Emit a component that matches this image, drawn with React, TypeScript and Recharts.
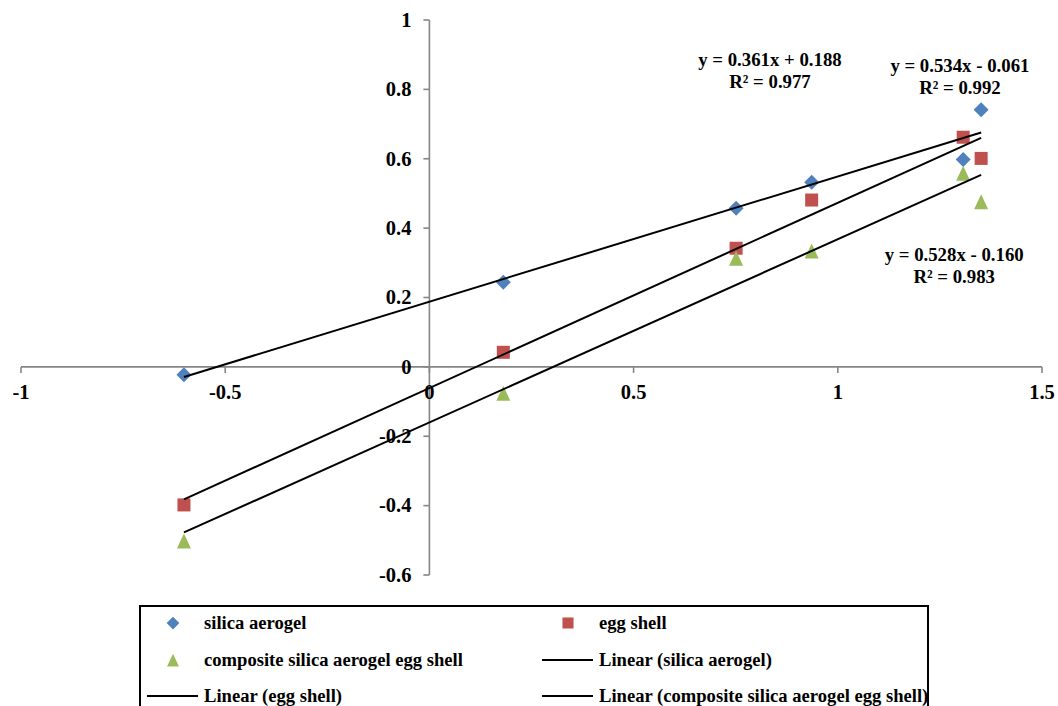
import React from 'react';
import { ScatterChart, Scatter, XAxis, YAxis, ReferenceLine, ReferenceDot } from 'recharts';

// ---- data ----
const xValues = [-0.601, 0.181, 0.751, 0.936, 1.307, 1.351];
const silicaAerogel = [-0.023, 0.244, 0.457, 0.532, 0.598, 0.741];
const eggShell = [-0.398, 0.042, 0.342, 0.481, 0.662, 0.601];
const compositeShell = [-0.502, -0.076, 0.313, 0.334, 0.558, 0.476];

const seriesNames = ['silica aerogel', 'egg shell', 'composite silica aerogel egg shell'];
const fitSlopes = [0.361, 0.534, 0.528];
const fitIntercepts = [0.188, -0.061, -0.16];
const fitR2 = [0.977, 0.992, 0.983];
// where each equation label sits (data units)
const labelX = [0.834, 1.299, 1.285];
const labelY = [0.853, 0.836, 0.291];

const xTicks = [-1, -0.5, 0, 0.5, 1, 1.5];
const xTickLabels = ['-1', '-0.5', '0', '0.5', '1', '1.5'];
const yTicks = [-0.6, -0.4, -0.2, 0, 0.2, 0.4, 0.6, 0.8, 1];
const yTickLabels = ['-0.6', '-0.4', '-0.2', '0', '0.2', '0.4', '0.6', '0.8', '1'];

const COLORS = ['#4F81BD', '#C0504D', '#9BBB59'];
const AXIS = '#868686';
const FONT = "'Liberation Serif', 'Times New Roman', Times, serif";

const seriesValues = [silicaAerogel, eggShell, compositeShell];
const seriesData = seriesValues.map((vals) => xValues.map((x, i) => ({ x, y: vals[i] })));
const xMin = Math.min(...xValues);
const xMax = Math.max(...xValues);
const fitData = fitSlopes.map((m, i) => [
  { x: xMin, y: m * xMin + fitIntercepts[i] },
  { x: xMax, y: m * xMax + fitIntercepts[i] },
]);

const fmtEq = (i: number) => {
  const b = fitIntercepts[i];
  const sign = b < 0 ? '-' : '+';
  return `y = ${fitSlopes[i].toFixed(3)}x ${sign} ${Math.abs(b).toFixed(3)}`;
};

// ---- marker shapes ----
const Marker = ({ kind, cx, cy, s = 1 }: { kind: number; cx: number; cy: number; s?: number }) => {
  if (kind === 0) {
    const r = 7.5 * s;
    return (
      <polygon
        points={`${cx},${cy - r} ${cx + r},${cy} ${cx},${cy + r} ${cx - r},${cy}`}
        fill={COLORS[0]}
      />
    );
  }
  if (kind === 1) {
    const h = 6.5 * s;
    return <rect x={cx - h} y={cy - h} width={2 * h} height={2 * h} fill={COLORS[1]} />;
  }
  const w = 7 * s;
  const h = 7.5 * s;
  return (
    <polygon points={`${cx},${cy - h} ${cx + w},${cy + h} ${cx - w},${cy + h}`} fill={COLORS[2]} />
  );
};

const T = ({ children, ...rest }: any) => (
  <text fontFamily={FONT} fontWeight={700} fill="#000" style={{ fontFamily: FONT }} {...rest}>
    {children}
  </text>
);

const Legend = () => {
  const rows = [18, 55, 91];
  const col = [0, 395];
  const items: { kind: 'm' | 'l'; idx: number; label: string }[] = [
    { kind: 'm', idx: 0, label: seriesNames[0] },
    { kind: 'm', idx: 1, label: seriesNames[1] },
    { kind: 'm', idx: 2, label: seriesNames[2] },
    { kind: 'l', idx: 0, label: `Linear (${seriesNames[0]})` },
    { kind: 'l', idx: 1, label: `Linear (${seriesNames[1]})` },
    { kind: 'l', idx: 2, label: `Linear (${seriesNames[2]})` },
  ];
  return (
    <div
      style={{
        position: 'absolute',
        left: 139,
        top: 605,
        width: 790,
        height: 140,
        border: '2px solid #000',
        boxSizing: 'border-box',
        background: '#fff',
      }}
    >
      <svg width={790} height={140} style={{ position: 'absolute', left: -2, top: -2, overflow: 'visible' }}>
        {items.map((it, k) => {
          const r = rows[Math.floor(k / 2)];
          const c = col[k % 2];
          return (
            <g key={k}>
              {it.kind === 'm' ? (
                <Marker kind={it.idx} cx={c + 34} cy={r} s={0.85} />
              ) : (
                <line x1={c + 8} x2={c + 59} y1={r} y2={r} stroke="#000" strokeWidth={2} />
              )}
              <T x={c + 65} y={r} dy="0.33em" fontSize={18.6}>
                {it.label}
              </T>
            </g>
          );
        })}
      </svg>
    </div>
  );
};

export default function App() {
  return (
    <div
      style={{
        position: 'fixed',
        left: 0,
        top: 0,
        width: 1058,
        height: 706,
        overflow: 'hidden',
        background: '#fff',
        fontFamily: FONT,
      }}
    >
      <ScatterChart width={1058} height={706} margin={{ top: 20, right: 16, bottom: 131, left: 21 }}>
        <XAxis type="number" dataKey="x" domain={[-1, 1.5]} allowDataOverflow hide />
        <YAxis type="number" dataKey="y" domain={[-0.6, 1]} allowDataOverflow hide />
        <ReferenceLine y={0} stroke={AXIS} strokeWidth={1.6} />
        <ReferenceLine x={0} stroke={AXIS} strokeWidth={1.6} />
        {xTicks.map((t, i) => (
          <ReferenceDot
            key={`xt${i}`}
            x={t}
            y={0}
            r={0}
            shape={(p: any) => (
              <g>
                <line x1={p.cx} x2={p.cx} y1={p.cy} y2={p.cy + 6} stroke={AXIS} strokeWidth={1.6} />
                <T x={p.cx} y={p.cy + 25} dy="0.33em" textAnchor="middle" fontSize={20.5}>
                  {xTickLabels[i]}
                </T>
              </g>
            )}
          />
        ))}
        {yTicks.map((t, i) => (
          <ReferenceDot
            key={`yt${i}`}
            x={0}
            y={t}
            r={0}
            shape={(p: any) => (
              <g>
                <line x1={p.cx - 6} x2={p.cx} y1={p.cy} y2={p.cy} stroke={AXIS} strokeWidth={1.6} />
                <T x={p.cx - 18} y={p.cy} dy="0.33em" textAnchor="end" fontSize={20.5}>
                  {yTickLabels[i]}
                </T>
              </g>
            )}
          />
        ))}
        {seriesData.map((d, i) => (
          <Scatter
            key={`s${i}`}
            name={seriesNames[i]}
            data={d}
            isAnimationActive={false}
            shape={(p: any) => <Marker kind={i} cx={p.cx} cy={p.cy} />}
          />
        ))}
        {fitData.map((d, i) => (
          <Scatter
            key={`f${i}`}
            name={`Linear (${seriesNames[i]})`}
            data={d}
            isAnimationActive={false}
            line={{ stroke: '#000', strokeWidth: 2 }}
            shape={() => <g />}
          />
        ))}
        {fitSlopes.map((_, i) => (
          <ReferenceDot
            key={`eq${i}`}
            x={labelX[i]}
            y={labelY[i]}
            r={0}
            shape={(p: any) => (
              <g>
                <T x={p.cx} y={p.cy - 11} dy="0.33em" textAnchor="middle" fontSize={18.8}>
                  {fmtEq(i)}
                </T>
                <T x={p.cx} y={p.cy + 11} dy="0.33em" textAnchor="middle" fontSize={18.8}>
                  {`R² = ${fitR2[i].toFixed(3)}`}
                </T>
              </g>
            )}
          />
        ))}
      </ScatterChart>
      <Legend />
    </div>
  );
}
